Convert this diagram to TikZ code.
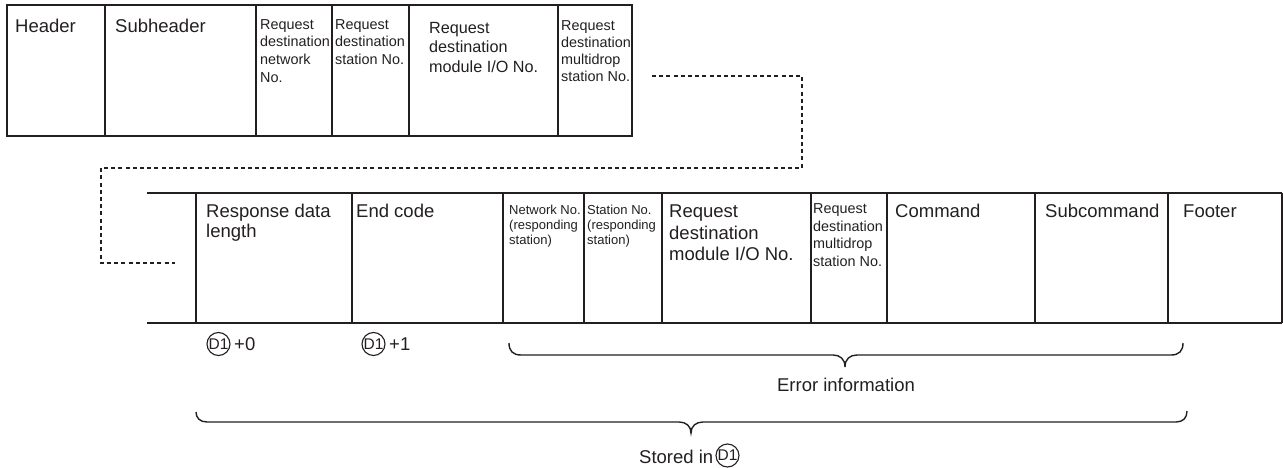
\documentclass[tikz,border=0pt]{standalone}
\usepackage{fontspec}
\setmainfont{Liberation Sans}
\definecolor{ink}{RGB}{35,31,32}
\newcommand{\mlines}[1]{\begin{tabular}[t]{@{}l@{}}#1\end{tabular}}
\tikzset{
  cellline/.style={draw=ink, line width=1.45pt},
  braceline/.style={draw=ink, line width=1.4pt},
  dotline/.style={draw=ink, line width=2.6pt, dash pattern=on 4pt off 3.2pt},
  bigtxt/.style={inner sep=0pt, anchor=base west, text=ink, font=\fontsize{18.5}{19.3}\selectfont},
  bigtxtb/.style={inner sep=0pt, anchor=base west, text=ink, font=\fontsize{18.5}{21.5}\selectfont},
  midtxt/.style={inner sep=0pt, anchor=base west, text=ink, font=\fontsize{16.2}{19.6}\selectfont},
  smalltxt/.style={inner sep=0pt, anchor=base west, text=ink, font=\fontsize{14.4}{17.6}\selectfont},
  tinytxt/.style={inner sep=0pt, anchor=base west, text=ink, font=\fontsize{13}{14.9}\selectfont},
  dcircle/.style={circle, draw=ink, line width=1.1pt, inner sep=0pt, minimum size=23pt, text=ink, font=\fontsize{15.5}{15.5}\selectfont},
}
\begin{document}
\begin{tikzpicture}[x=1pt, y=-1pt]
\useasboundingbox (0,0) rectangle (1283,468);

% ---- top frame ----
\draw[cellline] (7,5) rectangle (632,136);
\foreach \xx in {105,256,332,409,558} \draw[cellline] (\xx,5) -- (\xx,136);

\node[bigtxt] (hdr) at (15,33) {Header};
\node[bigtxt] (sub) at (115,33) {Subheader};
\node[smalltxt, font=\fontsize{14.4}{17.7}\selectfont] (rdnet) at (260,29.3) {\mlines{Request\\destination\\network\\No.}};
\node[smalltxt, font=\fontsize{14.4}{17.7}\selectfont] (rdst) at (335,29.3) {\mlines{Request\\destination\\station No.}};
\node[midtxt] (rdmod) at (429,33.3) {\mlines{Request\\destination\\module I/O No.}};
\node[smalltxt, font=\fontsize{14.4}{17}\selectfont] (rdmd) at (561,31) {\mlines{Request\\destination\\multidrop\\station No.}};

% ---- dotted continuation ----
\coordinate (dA) at (652,76);
\coordinate (dB) at (802,76);
\coordinate (dC) at (802,168);
\coordinate (dD) at (101,168);
\coordinate (dE) at (101,263);
\coordinate (dF) at (175,263);
\draw[dotline] (dA) -- (dB) -- (dC) -- (dD) -- (dE) -- (dF);

% ---- bottom frame ----
\draw[cellline] (147,193) -- (1281.8,193);
\draw[cellline] (147,323) -- (1281.8,323);
\foreach \xx in {196,352,503,584,662,811,887,1035,1168,1281.8} \draw[cellline] (\xx,193) -- (\xx,323);

\node[bigtxt] (rlen) at (206,218) {\mlines{Response data\\length}};
\node[bigtxt] (endc) at (356,218) {End code};
\node[tinytxt] (netno) at (509,214.4) {\mlines{Network No.\\(responding\\station)}};
\node[tinytxt] (stno) at (587,214.4) {\mlines{Station No.\\(responding\\station)}};
\node[bigtxtb] (rdmod2) at (669,218) {\mlines{Request\\destination\\module I/O No.}};
\node[smalltxt, font=\fontsize{14.4}{17.5}\selectfont] (rdmd2) at (813,214) {\mlines{Request\\destination\\multidrop\\station No.}};
\node[bigtxt] (cmd) at (895,218) {Command};
\node[bigtxt] (subcmd) at (1045,218) {Subcommand};
\node[bigtxt] (ftr) at (1183,218) {Footer};

% ---- device labels ----
\node[dcircle] (d1a) at (218.5,344) {D1};
\node[bigtxt] (p0) at (234,350.7) {+0};
\node[dcircle] (d1b) at (373.5,344) {D1};
\node[bigtxt] (p1) at (389,350.7) {+1};

% ---- braces ----
\draw[braceline] (509,343) .. controls (509,351) and (513,355) .. (521,355) -- (833,355)
  .. controls (840,355) and (845,359) .. (845,367)
  .. controls (845,359) and (850,355) .. (857,355) -- (1171,355)
  .. controls (1179,355) and (1183,351) .. (1183,343);
\node[bigtxt, anchor=base] (errinfo) at (846,391) {Error information};

\draw[braceline] (196,412) .. controls (196,418) and (200,422) .. (207,422) -- (679,422)
  .. controls (686,422) and (691,426) .. (691,433)
  .. controls (691,426) and (696,422) .. (703,422) -- (1176,422)
  .. controls (1183,422) and (1187,418) .. (1187,411);
\node[bigtxt] (stored) at (639,463) {Stored in};
\node[dcircle] (d1c) at (727.5,455.5) {D1};
\end{tikzpicture}
\end{document}
